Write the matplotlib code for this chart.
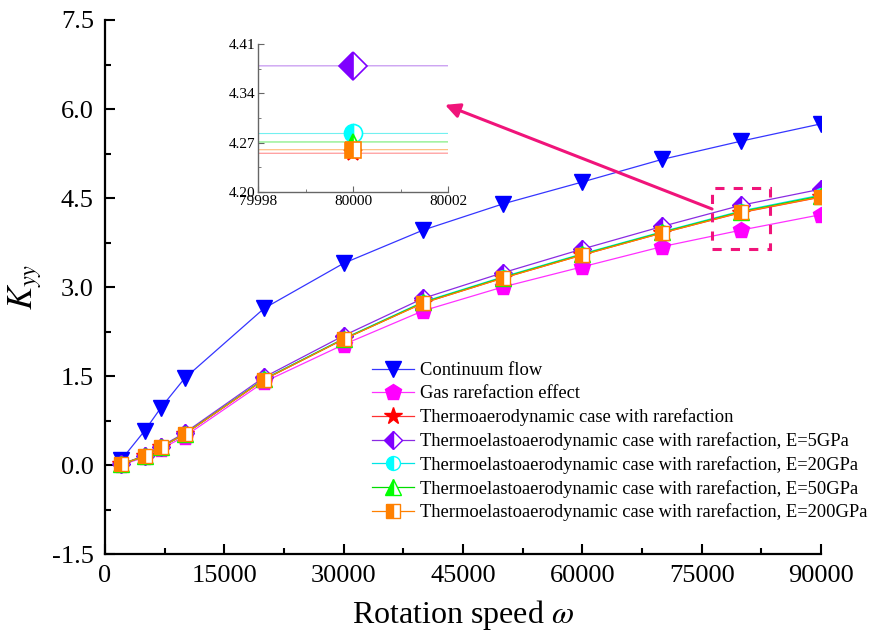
import numpy as np
import matplotlib
matplotlib.use('Agg')
from matplotlib import pyplot as plt
from matplotlib.patches import Rectangle

plt.rcParams['font.family'] = ['Liberation Serif', 'DejaVu Serif']
plt.rcParams['mathtext.fontset'] = 'stix'

# rotation speed
speed = [2000, 5000, 7000, 10000, 20000, 30000, 40000, 50000, 60000, 70000, 80000, 90000]

# K_yy for each case
continuum = [0.08, 0.58, 0.96, 1.46, 2.64, 3.40, 3.96, 4.40, 4.77, 5.15, 5.46, 5.75]
gas_rare = [0.00, 0.13, 0.27, 0.48, 1.40, 2.03, 2.60, 3.00, 3.34, 3.68, 3.96, 4.22]
thermo = [0.01, 0.15, 0.30, 0.52, 1.44, 2.12, 2.73, 3.15, 3.54, 3.91, 4.255, 4.515]
e5 = [0.01, 0.16, 0.31, 0.54, 1.48, 2.18, 2.81, 3.24, 3.64, 4.02, 4.379, 4.65]
e20 = [0.01, 0.15, 0.30, 0.52, 1.45, 2.13, 2.75, 3.17, 3.56, 3.93, 4.283, 4.55]
e50 = [0.01, 0.15, 0.30, 0.52, 1.445, 2.125, 2.74, 3.16, 3.55, 3.92, 4.271, 4.535]
e200 = [0.01, 0.15, 0.30, 0.52, 1.44, 2.12, 2.73, 3.15, 3.54, 3.91, 4.26, 4.52]

labels = ['Continuum flow',
          'Gas rarefaction effect',
          'Thermoaerodynamic case with rarefaction',
          'Thermoelastoaerodynamic case with rarefaction, E=5GPa',
          'Thermoelastoaerodynamic case with rarefaction, E=20GPa',
          'Thermoelastoaerodynamic case with rarefaction, E=50GPa',
          'Thermoelastoaerodynamic case with rarefaction, E=200GPa']

series = [continuum, gas_rare, thermo, e5, e20, e50, e200]

# style per series: line colour, marker colour, marker, size, fillstyle
styles = [
    dict(color='#3535ff', mfc='#0000ff', mec='#0000ff', marker='v', ms=12, fillstyle='full'),
    dict(color='#ff30ff', mfc='#ff00ff', mec='#ff00ff', marker='p', ms=12, fillstyle='full'),
    dict(color='#ff3030', mfc='#ff0000', mec='#ff0000', marker='*', ms=13, fillstyle='full'),
    dict(color='#8a2be2', mfc='#7f00ff', mec='#7f00ff', marker='D', ms=9.5, fillstyle='left'),
    dict(color='#00e5e5', mfc='#00ffff', mec='#00ffff', marker='o', ms=10, fillstyle='left'),
    dict(color='#00dd00', mfc='#00ff00', mec='#00ff00', marker='^', ms=11, fillstyle='left'),
    dict(color='#ff8000', mfc='#ff8000', mec='#ff8000', marker='s', ms=10, fillstyle='left'),
]

fig = plt.figure(figsize=(8.8, 6.41), dpi=100)
ax = fig.add_axes([0.1193, 0.1357, 0.8137, 0.8331])

for y, lab, st in zip(series, labels, styles):
    ax.plot(speed, y, label=lab, lw=0.9, markerfacecoloralt='white',
            markeredgewidth=1.0, **st)

ax.set_xlim(0, 90000)
ax.set_ylim(-1.5, 7.5)
ax.set_xticks(np.arange(0, 90001, 15000))
ax.set_xticks(np.arange(7500, 90000, 15000), minor=True)
ax.set_yticks(np.arange(-1.5, 7.6, 1.5))
ax.set_yticks(np.arange(-0.75, 7.5, 1.5), minor=True)
ax.yaxis.set_major_formatter(matplotlib.ticker.FormatStrFormatter('%.1f'))
for s in ['top', 'right']:
    ax.spines[s].set_visible(False)
for s in ['left', 'bottom']:
    ax.spines[s].set_linewidth(1.6)
ax.tick_params(which='both', direction='in', width=1.5, labelsize=19, pad=8)
ax.tick_params(which='major', length=7)
ax.tick_params(which='minor', length=4)

ax.set_xlabel(r'Rotation speed $\omega$', fontsize=23, labelpad=8)
ax.set_ylabel(r'$K_{yy}$', fontsize=25, labelpad=6)

leg = ax.legend(loc='upper left', bbox_to_anchor=(0.4227, 0.4345),
                bbox_transform=fig.transFigure, frameon=False, fontsize=13.3,
                borderpad=0, labelspacing=0.32, handlelength=2.25,
                handletextpad=0.35, borderaxespad=0)

# dashed box around 80000 and the arrow to the zoomed view
pink = '#f0147a'
ax.add_patch(Rectangle((76300, 3.64), 7300, 1.03, fill=False, ec=pink,
                       ls=(0, (3, 3)), lw=2.2, zorder=5))
ax.annotate('', xy=(42740, 6.07), xytext=(76300, 4.315),
            arrowprops=dict(arrowstyle='-|>', color=pink, lw=2.2,
                            mutation_scale=22, shrinkA=0, shrinkB=0))

# inset
ins = fig.add_axes([0.2932, 0.7005, 0.2159, 0.2309])
inset_sizes = [12, 13, 13, 14, 13, 12, 12]
for y, st, ms in zip(series, styles, inset_sizes):
    st2 = dict(st)
    st2['ms'] = ms
    line_col = st2.pop('color')
    ins.plot(speed, y, color=line_col, lw=0.8, alpha=0.55)
    st2.pop('marker')
    ins.plot(speed, y, ls='none', marker=st['marker'], markerfacecoloralt='white',
             markeredgewidth=1.2, **{k: v for k, v in st2.items()})
ins.set_xlim(79998, 80002)
ins.set_ylim(4.20, 4.41)
ins.set_xticks([79998, 80000, 80002])
ins.set_xticks([79999, 80001], minor=True)
ins.set_yticks([4.20, 4.27, 4.34, 4.41])
ins.set_yticks([4.235, 4.305, 4.375], minor=True)
ins.yaxis.set_major_formatter(matplotlib.ticker.FormatStrFormatter('%.2f'))
ins.xaxis.set_major_formatter(matplotlib.ticker.FormatStrFormatter('%d'))
for s in ['top', 'right']:
    ins.spines[s].set_visible(False)
for s in ['left', 'bottom']:
    ins.spines[s].set_color('#666666')
    ins.spines[s].set_linewidth(1.0)
ins.tick_params(which='both', direction='in', colors='#666666', labelcolor='black',
                labelsize=11, pad=2)
ins.tick_params(which='major', length=4)
ins.tick_params(which='minor', length=2)
ins.patch.set_alpha(0)

fig.savefig('out.png', dpi=100)
